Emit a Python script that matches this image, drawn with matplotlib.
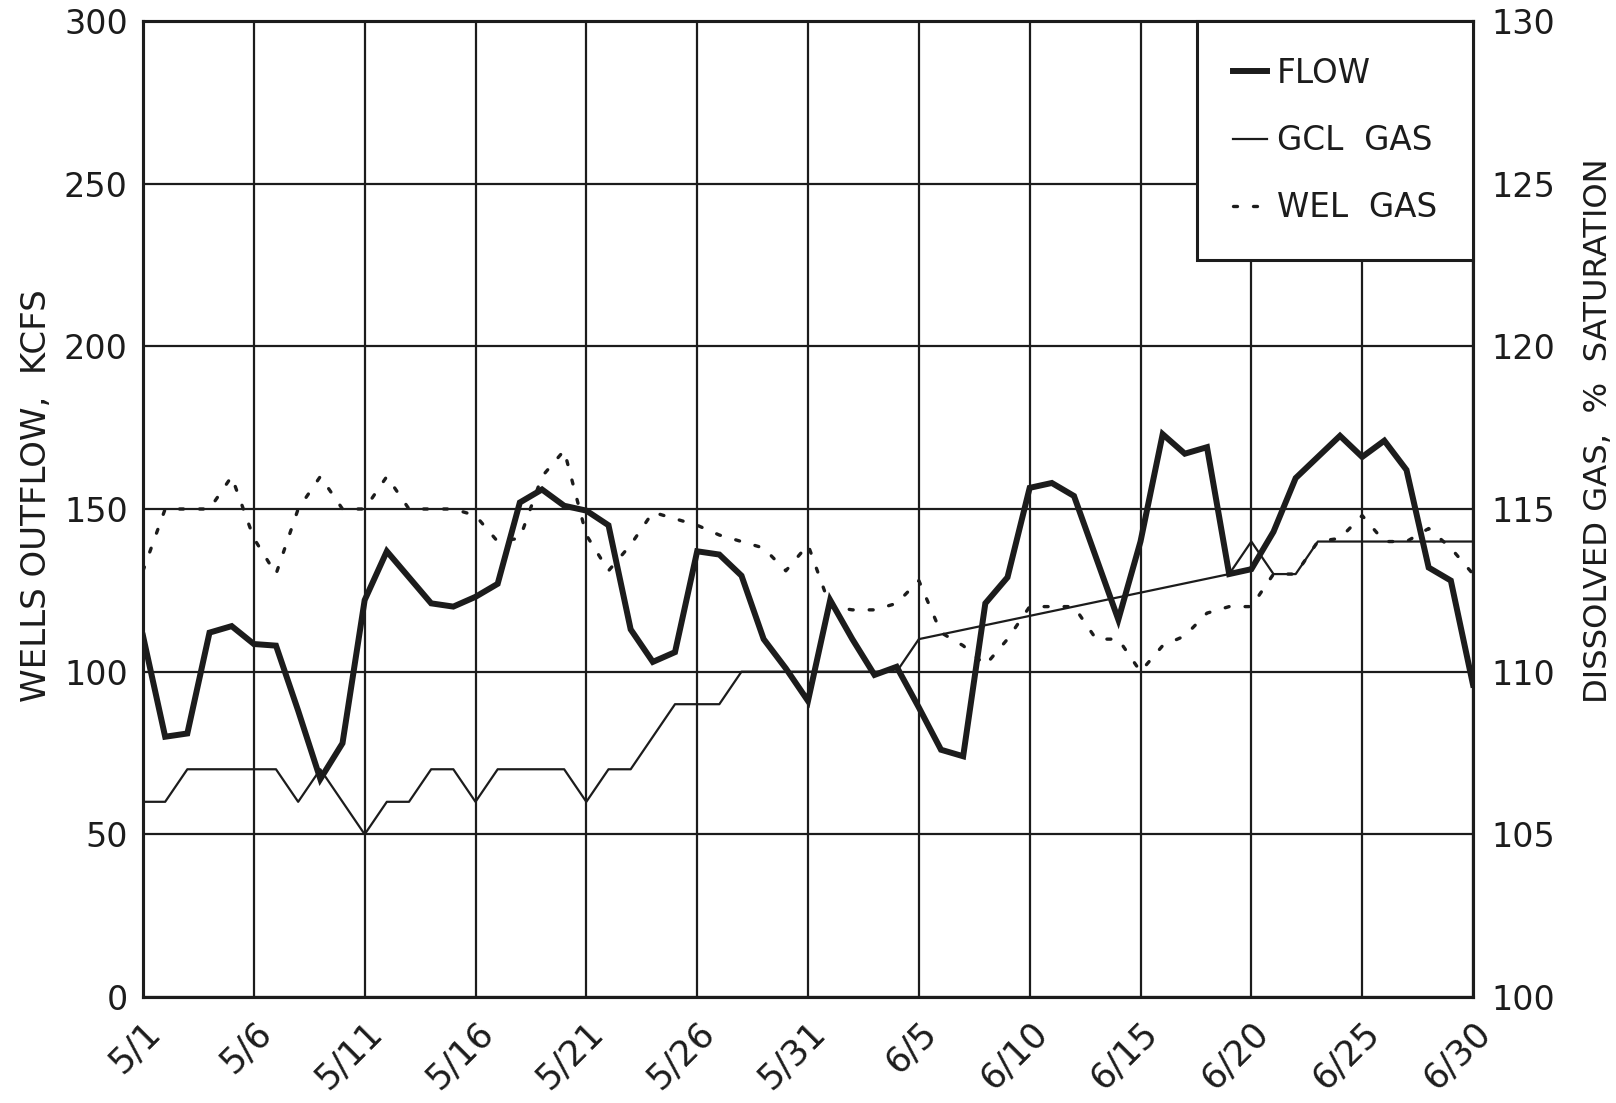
import matplotlib
matplotlib.use("Agg")
import matplotlib.pyplot as plt
import matplotlib.transforms as mtransforms
import numpy as np

# daily values, 5/1 .. 6/30
days = np.arange(61)
tick_days = [0, 5, 10, 15, 20, 25, 30, 35, 40, 45, 50, 55, 60]
tick_labels = ["5/1", "5/6", "5/11", "5/16", "5/21", "5/26", "5/31",
               "6/5", "6/10", "6/15", "6/20", "6/25", "6/30"]

# Wells outflow, kcfs
flow = [111, 80, 81, 112, 114, 108.5, 108, 88, 67, 78,
        122, 137, 129, 121, 120, 123, 127, 152, 156, 151,
        149.5, 145, 113, 103, 106, 137, 136, 129.5, 110, 101,
        91, 122, 110, 99, 101.5, 89, 76, 74, 121, 129,
        156.5, 158, 154, 135, 116, 140, 173, 167, 169, 130,
        131.5, 143, 159.5, 166, 172.5, 166, 171, 162, 132, 128,
        96]

# dissolved gas, % saturation (nan = no reading)
nan = np.nan
gcl_gas = [106, 106, 107, 107, 107, 107, 107, 106, 107, 106,
           105, 106, 106, 107, 107, 106, 107, 107, 107, 107,
           106, 107, 107, 108, 109, 109, 109, 110, 110, 110,
           110, 110, 110, 110, 110, 111, nan, nan, nan, nan,
           nan, nan, nan, nan, nan, nan, nan, nan, nan, 113,
           114, 113, 113, 114, 114, 114, 114, 114, 114, 114,
           114]
wel_gas = [113.1, 115, 115, 115, 116, 114.1, 113, 115, 116, 115,
           115, 116, 115, 115, 115, 114.8, 114, 114.1, 116, 116.8,
           114.2, 113.1, 113.9, 114.9, 114.7, 114.5, 114.2, 114, 113.8, 113.1,
           113.9, 112, 111.9, 111.9, 112.1, 112.8, 111.2, 110.8, 110.2, 111,
           112, 112, 112, 111, 111, 110, 110.8, 111.1, 111.8, 112,
           112, 113, 113, 114, 114.1, 114.8, 114, 114, 114.4, 113.8,
           113]

ink = "#1c1c1c"
plt.rcParams["font.family"] = ["DejaVu Sans"]

fig = plt.figure(figsize=(16.16, 11.03), dpi=100)
W, H = 1616, 1103
ax = fig.add_axes([143 / W, 1 - 997 / H, (1473 - 143) / W, (997 - 21) / H])
ax2 = ax.twinx()

flow_line, = ax.plot(days, flow, color=ink, lw=4.3, solid_joinstyle="miter")

gcl = np.array(gcl_gas)
ok = ~np.isnan(gcl)
gcl_line, = ax2.plot(days[ok], gcl[ok], color=ink, lw=1.6)
wel_line, = ax2.plot(days, wel_gas, color=ink, lw=2.4,
                     linestyle=(0, (1.2, 4.8)), dash_capstyle="round")

ax.set_xlim(0, 60)
ax.set_ylim(0, 300)
ax.set_yticks(np.arange(0, 301, 50))
ax2.set_ylim(100, 130)
ax2.set_yticks(np.arange(100, 131, 5))
ax.set_xticks(tick_days)
ax.set_xticklabels(tick_labels, rotation=45, ha="right", va="top",
                   rotation_mode="anchor")
shift = mtransforms.ScaledTranslation(2 / 100, 0, fig.dpi_scale_trans)
for lbl in ax.get_xticklabels():
    lbl.set_transform(lbl.get_transform() + shift)

ax.grid(True, color=ink, lw=1.6)
ax.set_axisbelow(True)
for a in (ax, ax2):
    for s in a.spines.values():
        s.set_linewidth(2.2)
        s.set_color(ink)
ax.tick_params(axis="both", length=0, labelsize=24, colors=ink)
ax.tick_params(axis="x", pad=13, labelsize=25.5)
ax.tick_params(axis="y", pad=11)
ax2.tick_params(axis="y", length=0, labelsize=24, colors=ink, pad=13)

ax.set_ylabel("WELLS OUTFLOW,  KCFS", fontsize=24.5, color=ink)
ax.yaxis.set_label_coords(-0.068, 0.514)
ax2.set_ylabel("DISSOLVED GAS,  %  SATURATION", fontsize=23.2, color=ink)
ax2.yaxis.set_label_coords(1.0825, 0.58)

leg = ax2.legend([flow_line, gcl_line, wel_line],
                 ["FLOW", "GCL  GAS", "WEL  GAS"],
                 loc="upper right", bbox_to_anchor=(1, 1), borderaxespad=0,
                 fontsize=23.5, handlelength=1.05, handletextpad=0.3,
                 borderpad=1.1, labelspacing=1.05, fancybox=False,
                 framealpha=1, edgecolor=ink)
leg.get_frame().set_linewidth(2.2)
for t in leg.get_texts():
    t.set_color(ink)

plt.savefig("out.png", dpi=100)
